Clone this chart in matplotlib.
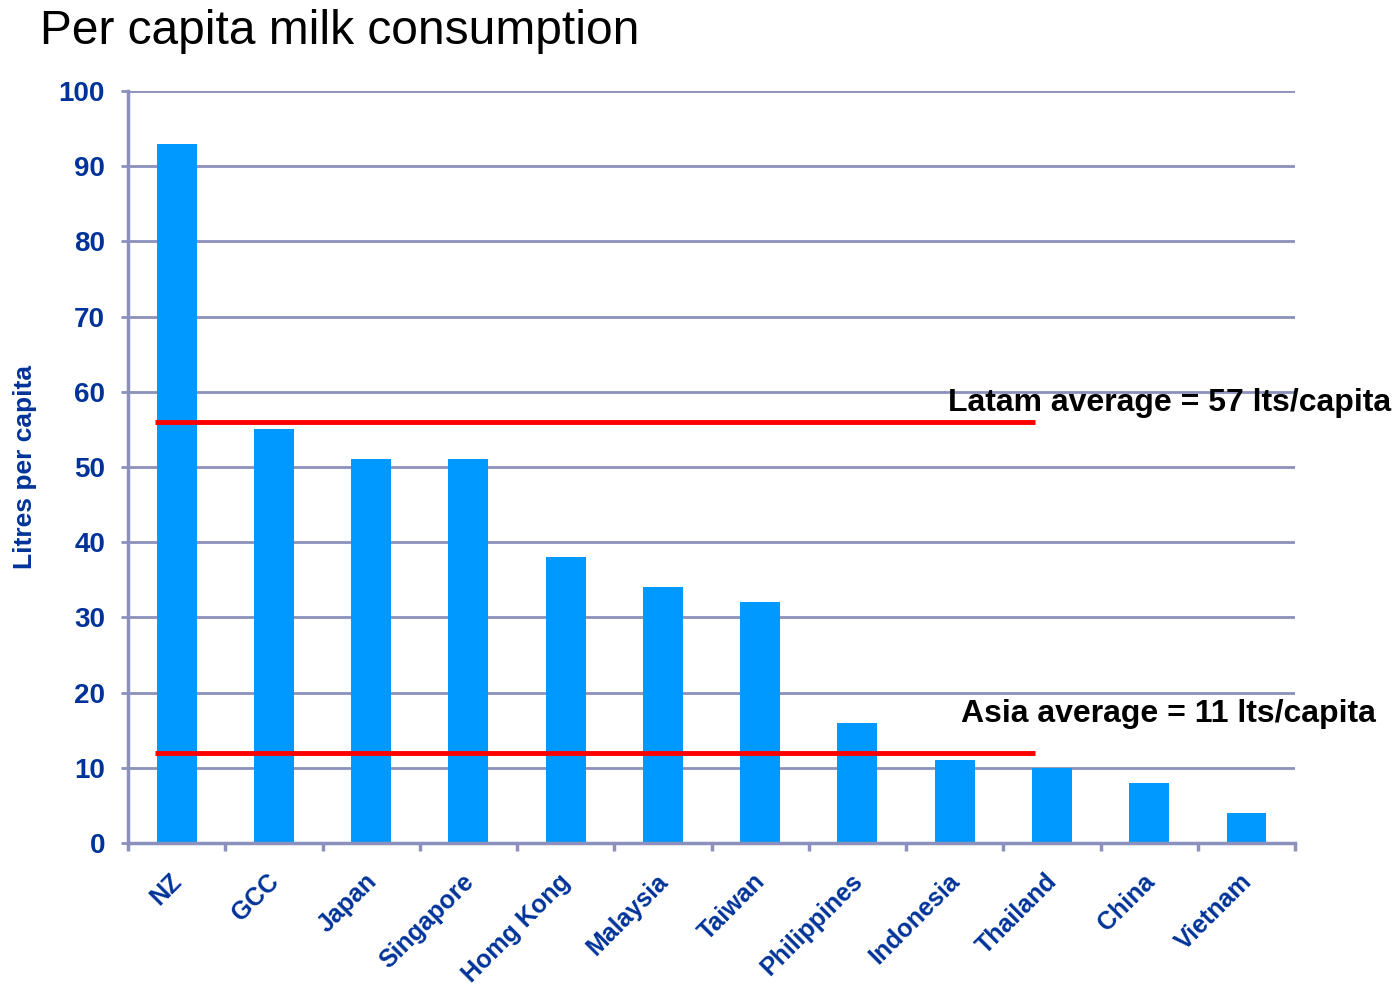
import numpy as np
import matplotlib

matplotlib.use("Agg")
import matplotlib.pyplot as plt
from matplotlib.transforms import ScaledTranslation

countries = ["NZ", "GCC", "Japan", "Singapore", "Homg Kong", "Malaysia",
             "Taiwan", "Philippines", "Indonesia", "Thailand", "China", "Vietnam"]
litres = [93, 55, 51, 51, 38, 34, 32, 16, 11, 10, 8, 4]
latam_avg = 56
asia_avg = 12
latam_label = "Latam average = 57 lts/capita"
asia_label = "Asia average = 11 lts/capita"

BLUE = "#0099FF"
DARK = "#003399"
GRID = "#8C90BC"

plt.rcParams["font.family"] = ["Liberation Sans", "DejaVu Sans"]

fig = plt.figure(figsize=(13.93, 9.86), dpi=100)
ax = fig.add_axes([0.0919, 0.145, 0.8378, 0.7627])

x = np.arange(len(countries))
ax.bar(x, litres, width=0.41, color=BLUE, zorder=2)

ax.set_xlim(-0.5, len(countries) - 0.5)
ax.set_ylim(0, 100)
ax.set_yticks(range(0, 101, 10))
ax.yaxis.grid(True, color=GRID, lw=2, zorder=0)
ax.set_axisbelow(True)

# category boundaries as ticks, names centred under bars
ax.set_xticks(np.arange(-0.5, len(countries) + 0.5, 1))
ax.set_xticklabels([])
ax.set_xticks(x, minor=True)
ax.set_xticklabels(countries, minor=True, rotation=45, ha="right", va="top",
                   rotation_mode="anchor", fontsize=18, fontweight="bold", color=DARK)
ax.tick_params(axis="x", which="minor", length=0, pad=19)
ax.tick_params(axis="x", which="major", length=6, width=2.5, color=GRID)
shift = ScaledTranslation(-7 / 100, 0, fig.dpi_scale_trans)
for t in ax.get_xticklabels(minor=True):
    t.set_transform(t.get_transform() + shift)
ax.tick_params(axis="y", length=5, width=2, color=GRID, labelsize=20, labelcolor=DARK, pad=11.5)
for t in ax.get_yticklabels():
    t.set_fontweight("bold")

for s in ["top", "right"]:
    ax.spines[s].set_visible(False)
for s in ["left", "bottom"]:
    ax.spines[s].set_color(GRID)
    ax.spines[s].set_linewidth(2.5)

ax.plot([-0.22, 8.83], [latam_avg, latam_avg], color="#FF0000", lw=3.5,
        solid_capstyle="butt", zorder=3)
ax.plot([-0.22, 8.83], [asia_avg, asia_avg], color="#FF0000", lw=3.5,
        solid_capstyle="butt", zorder=3)
ax.text(7.93, 58.5, latam_label, fontsize=23, fontweight="bold", color="black",
        va="center", ha="left", clip_on=False)
ax.text(8.06, 17.2, asia_label, fontsize=23, fontweight="bold", color="black",
        va="center", ha="left", clip_on=False)

fig.text(0.018, 0.526, "Litres per capita", rotation=90, fontsize=19, fontweight="bold",
         color=DARK, va="center", ha="center")
fig.text(0.029, 0.968, "Per capita milk consumption", fontsize=34.5, va="center", ha="left")

fig.savefig("out.png", dpi=100)
